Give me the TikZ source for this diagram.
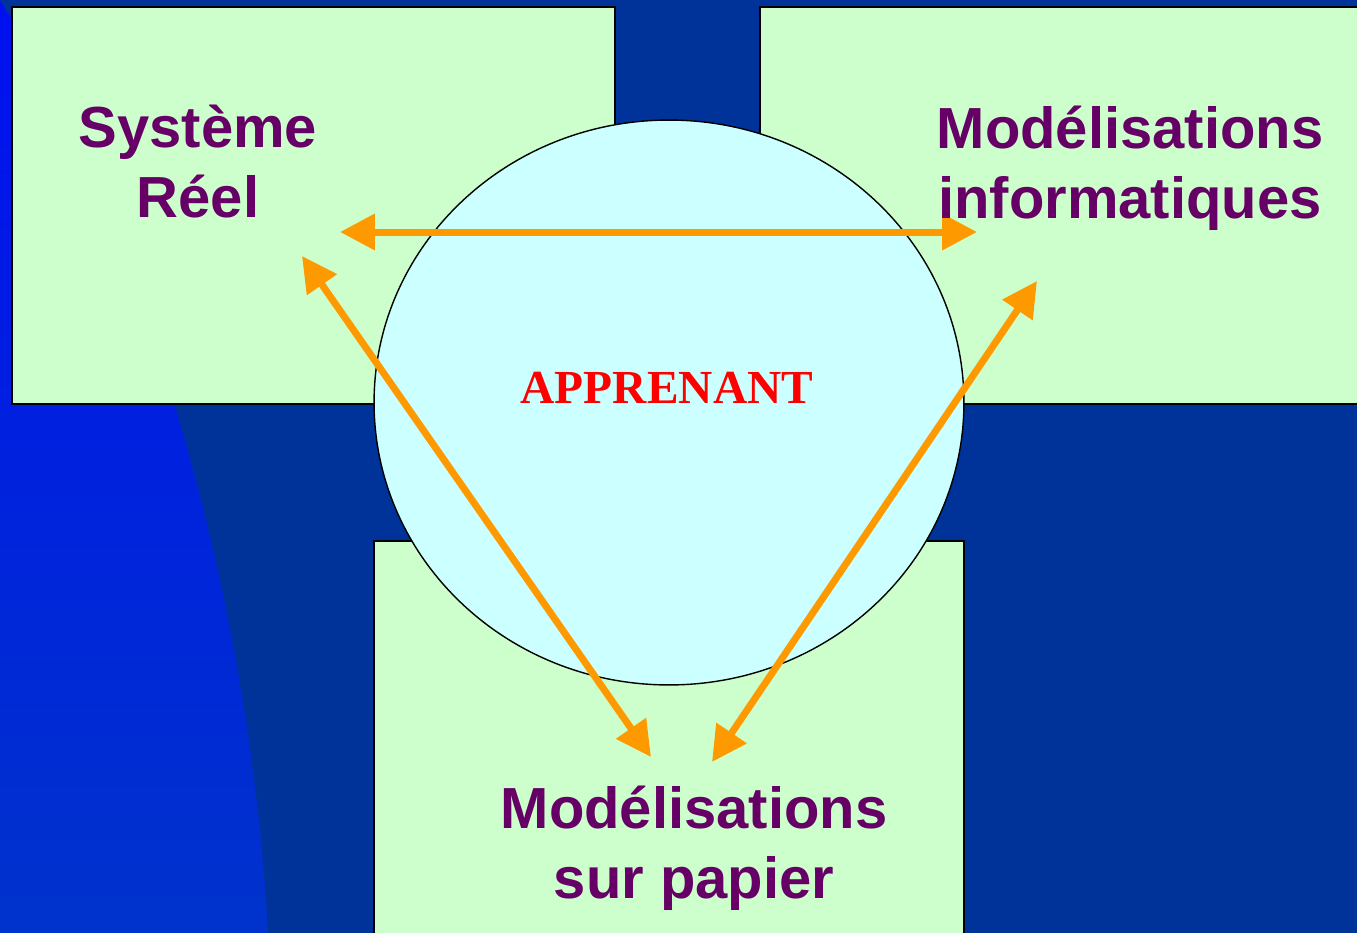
\documentclass[tikz,border=0pt]{standalone}
\usepackage{fontspec}
\setmainfont{Liberation Serif}
\newfontfamily\arialfont{Liberation Sans}
\usetikzlibrary{arrows.meta}
\definecolor{fondbleu}{HTML}{003399}
\definecolor{vifhaut}{HTML}{0010F0}
\definecolor{vifbas}{HTML}{0033CC}
\definecolor{vertpale}{HTML}{CCFFCC}
\definecolor{cyanpale}{HTML}{CCFFFF}
\definecolor{violet}{HTML}{660066}
\definecolor{orangefl}{HTML}{FF9900}

\begin{document}
\begin{tikzpicture}[x=0.02cm,y=-0.02cm,line width=1.2pt,
  boite/.style={draw=black,fill=vertpale},
  titre/.style={font=\arialfont\bfseries\fontsize{33}{39.5}\selectfont,text=violet,align=center,anchor=base,inner sep=0pt},
  fleche/.style={draw=orangefl,line width=0.14cm,{Triangle[length=0.7cm,width=0.7cm]}-{Triangle[length=0.7cm,width=0.7cm]}}]
\useasboundingbox (0,0) rectangle (1357,933);
% fond
\fill[fondbleu] (0,0) rectangle (1357,933);
\shade[top color=vifhaut,bottom color=vifbas] (0,0) .. controls (150,250) and (250,600) .. (268,933) -- (0,933) -- cycle;
% les trois boites
\draw[boite] (12,7) rectangle (615,404);
\draw[boite] (760,7) rectangle (1370,404);
\draw[boite] (374,541) rectangle (964,945);
\draw[fill=cyanpale,line width=.8pt] (669,402.5) ellipse [x radius=5.9cm, y radius=5.65cm];
\node[font=\bfseries\fontsize{27}{32}\selectfont,text=red,anchor=base,inner sep=0pt] (apprenant) at (667,403) {APPRENANT};
% fleches
\coordinate (R1) at (340,232); \coordinate (I1) at (977,232);
\coordinate (R2) at (302,256); \coordinate (P1) at (651,757);
\coordinate (I2) at (1037,281); \coordinate (P2) at (712,762);
\draw[fleche] (R1)--(I1); \draw[fleche] (R2)--(P1); \draw[fleche] (I2)--(P2);
% textes
\node[titre] (reel) at (198,217) {Système\\Réel};
\node[titre] (info) at (1130,218) {Modélisations\\informatiques};
\node[titre] (papier) at (694,898) {Modélisations\\sur papier};
\end{tikzpicture}
\end{document}
